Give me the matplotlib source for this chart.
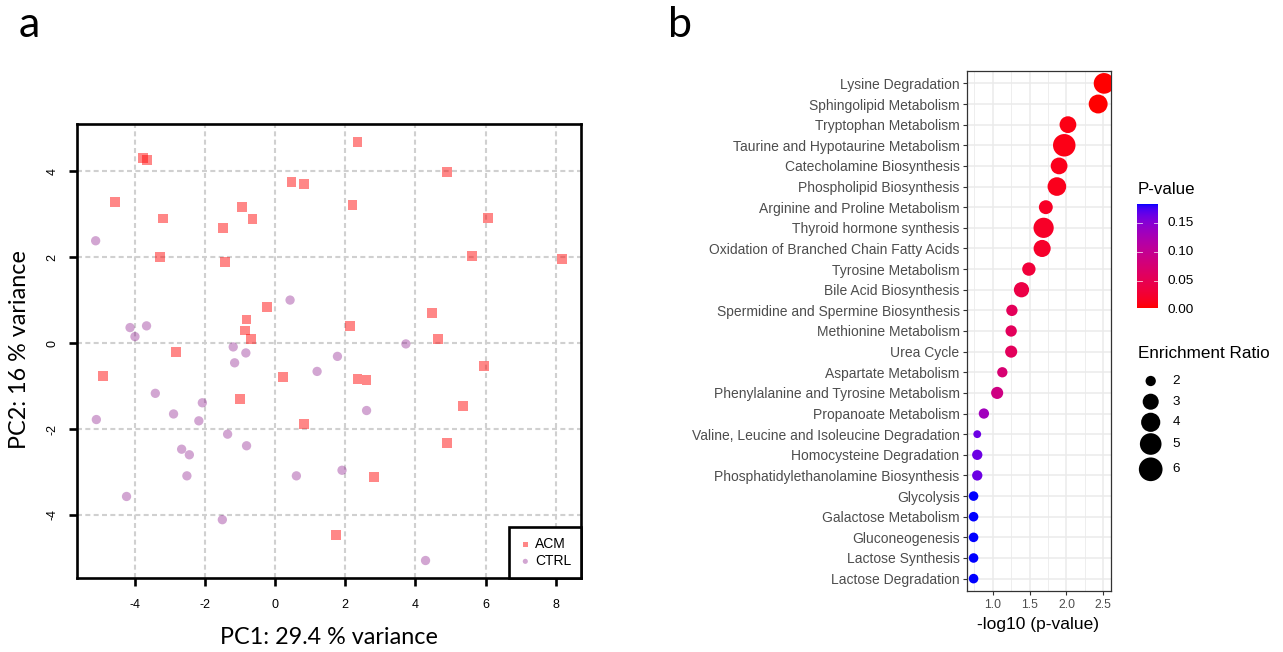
import numpy as np
import matplotlib
matplotlib.use("Agg")
import matplotlib.pyplot as plt
from matplotlib.colors import ListedColormap, Normalize

plt.rcParams["axes.unicode_minus"] = False
plt.rcParams["font.family"] = ["Liberation Sans", "DejaVu Sans"]

# ---------------- data: panel a (PCA) ----------------
acm_x = [-3.75, -3.65, -4.56, -3.18, -3.28, -1.49, -1.42, -0.95, -0.64, 0.47, 0.83,
         -0.22, -0.81, -0.85, -0.68, -2.83, -4.91, 0.24, -1.00, 0.82, 2.35, 2.21,
         4.90, 6.08, 5.62, 8.18, 4.48, 2.14, 4.64, 5.95, 2.35, 2.61, 5.35, 4.89, 2.81, 1.73]
acm_y = [4.30, 4.26, 3.29, 2.90, 2.01, 2.68, 1.89, 3.17, 2.88, 3.74, 3.71,
         0.83, 0.55, 0.29, 0.09, -0.20, -0.76, -0.79, -1.30, -1.88, 4.68, 3.21,
         3.98, 2.91, 2.02, 1.95, 0.70, 0.40, 0.09, -0.53, -0.84, -0.86, -1.47, -2.32, -3.12, -4.47]
ctrl_x = [-5.11, 0.43, -4.13, -3.66, -3.99, -1.19, -0.83, -1.15, 1.20, -3.41, -2.07,
          -2.89, -5.09, -2.17, -1.35, -0.81, -2.66, -2.44, -2.51, 0.61, -4.23, -1.50,
          3.73, 1.78, 2.61, 1.91, 4.29]
ctrl_y = [2.38, 1.00, 0.36, 0.40, 0.15, -0.09, -0.23, -0.46, -0.66, -1.17, -1.39,
          -1.65, -1.78, -1.81, -2.12, -2.39, -2.47, -2.60, -3.09, -3.09, -3.57, -4.11,
          -0.02, -0.31, -1.57, -2.96, -5.06]
pca_xticks = [-4, -2, 0, 2, 4, 6, 8]
pca_yticks = [-4, -2, 0, 2, 4]

# ---------------- data: panel b (enrichment) ----------------
pathways = ["Lysine Degradation", "Sphingolipid Metabolism", "Tryptophan Metabolism",
            "Taurine and Hypotaurine Metabolism", "Catecholamine Biosynthesis",
            "Phospholipid Biosynthesis", "Arginine and Proline Metabolism",
            "Thyroid hormone synthesis", "Oxidation of Branched Chain Fatty Acids",
            "Tyrosine Metabolism", "Bile Acid Biosynthesis",
            "Spermidine and Spermine Biosynthesis", "Methionine Metabolism", "Urea Cycle",
            "Aspartate Metabolism", "Phenylalanine and Tyrosine Metabolism",
            "Propanoate Metabolism", "Valine, Leucine and Isoleucine Degradation",
            "Homocysteine Degradation", "Phosphatidylethanolamine Biosynthesis",
            "Glycolysis", "Galactose Metabolism", "Gluconeogenesis", "Lactose Synthesis",
            "Lactose Degradation"]
neglog10p = [2.51, 2.43, 2.02, 1.97, 1.90, 1.87, 1.72, 1.69, 1.67, 1.49, 1.39,
             1.26, 1.25, 1.25, 1.13, 1.06, 0.88, 0.79, 0.79, 0.79,
             0.74, 0.74, 0.74, 0.74, 0.74]
enrichment = [4.6, 3.9, 3.2, 5.4, 3.2, 3.8, 2.5, 4.4, 3.3, 2.4, 2.8,
              2.1, 2.1, 2.2, 2.0, 2.2, 2.0, 1.9, 2.0, 2.0,
              1.95, 1.95, 1.95, 1.95, 1.95]
bx_ticks = [1.0, 1.5, 2.0, 2.5]
bx_minor = [0.75, 1.25, 1.75, 2.25]
cbar_ticks = [0.00, 0.05, 0.10, 0.15]
size_breaks = [2, 3, 4, 5, 6]

W, H = 1283, 652
fig = plt.figure(figsize=(W / 100, H / 100), dpi=100)
fig.patch.set_facecolor("white")

# ---------- colour scale (Lab interpolation red -> blue, like ggplot) ----------
_M = np.array([[0.4124564, 0.3575761, 0.1804375],
               [0.2126729, 0.7151522, 0.0721750],
               [0.0193339, 0.1191920, 0.9503041]])
_WHITE = np.array([0.95047, 1.0, 1.08883])


def _to_lab(rgb):
    c = np.asarray(rgb, float)
    lin = np.where(c <= 0.04045, c / 12.92, ((c + 0.055) / 1.055) ** 2.4)
    t = (_M @ lin) / _WHITE
    f = np.where(t > 0.008856, np.cbrt(t), 7.787 * t + 16 / 116)
    return np.array([116 * f[1] - 16, 500 * (f[0] - f[1]), 200 * (f[1] - f[2])])


def _from_lab(lab):
    L, a, b = lab
    fy = (L + 16) / 116
    f = np.array([fy + a / 500, fy, fy - b / 200])
    t = np.where(f ** 3 > 0.008856, f ** 3, (f - 16 / 116) / 7.787)
    lin = np.linalg.solve(_M, t * _WHITE)
    lin = np.clip(lin, 0, 1)
    return np.where(lin <= 0.0031308, 12.92 * lin, 1.055 * lin ** (1 / 2.4) - 0.055)


_la, _lb = _to_lab([1, 0, 0]), _to_lab([0, 0, 1])
cmap = ListedColormap([np.clip(_from_lab(_la + (_lb - _la) * t), 0, 1)
                       for t in np.linspace(0, 1, 256)])

pvals = 10 ** (-np.array(neglog10p))
norm = Normalize(vmin=pvals.min(), vmax=pvals.max())


def diam_px(v):
    v = np.asarray(v, float)
    return 7.82 + 7.84 * np.sqrt(np.clip(v - 1.9, 0, None))


def s_of(v):
    return (diam_px(v) * 0.72) ** 2

# ================= panel a =================
axA = fig.add_axes([76.7 / W, 1 - 577.7 / H, 504.3 / W, 453.4 / H])
axA.set_axisbelow(True)
axA.grid(True, linestyle=(0, (2.4, 1.6)), color="#D0D0D0", lw=1.5)
axA.scatter(acm_x, acm_y, marker="s", s=50, color="red", alpha=0.47,
            edgecolors="none", label="ACM", zorder=3)
axA.scatter(ctrl_x, ctrl_y, marker="o", s=45, color="#800080", alpha=0.35,
            edgecolors="none", label="CTRL", zorder=3)
axA.set_xlim(-5.65, 8.72)
axA.set_ylim(-5.46, 5.09)
axA.set_xticks(pca_xticks)
axA.set_yticks(pca_yticks)
for sp in axA.spines.values():
    sp.set_linewidth(1.9)
    sp.set_color("black")
axA.tick_params(length=6, width=1.9, direction="out", labelsize=9, pad=9)
axA.tick_params(axis="y", labelrotation=90, pad=7)
for lbl in axA.get_yticklabels():
    lbl.set_va("center")
leg = axA.legend(loc="lower right", frameon=True, fancybox=False, framealpha=1,
                 edgecolor="black", borderaxespad=0, markerscale=0.55,
                 prop={"size": 10},
                 handletextpad=0.2, labelspacing=0.2, borderpad=0.7, handlelength=1.0)
leg.get_frame().set_linewidth(1.9)

fig.text(19 / W, 1 - 37 / H, "a", fontfamily="Lato", fontsize=31, ha="left", va="baseline")
fig.text(668 / W, 1 - 37 / H, "b", fontfamily="Lato", fontsize=31, ha="left", va="baseline")
fig.text(328.5 / W, 1 - 638 / H, "PC1: 29.4 % variance", fontfamily="Lato",
         fontsize=16.8, ha="center", va="center")
fig.text(20 / W, 1 - 350 / H, "PC2: 16 % variance", fontfamily="Lato",
         fontsize=16.8, ha="center", va="center", rotation=90)

# ================= panel b =================
axB = fig.add_axes([967.3 / W, 1 - 591 / H, 143.4 / W, 520 / H])
n = len(pathways)
ypos = np.arange(n)
axB.set_axisbelow(True)
axB.set_xticks(bx_ticks)
axB.set_xticks(bx_minor, minor=True)
axB.set_yticks(ypos)
axB.set_yticklabels(pathways)
axB.grid(True, which="major", color="#EBEBEB", lw=1.1)
axB.grid(True, which="minor", axis="x", color="#EBEBEB", lw=0.6)
axB.scatter(neglog10p, ypos, s=s_of(enrichment), c=cmap(norm(pvals)),
            edgecolors="none", zorder=3, clip_on=True)
axB.set_xlim(0.655, 2.60)
axB.set_ylim(n - 1 + 0.6, -0.6)
for sp in axB.spines.values():
    sp.set_linewidth(0.9)
    sp.set_color("#333333")
axB.tick_params(which="major", length=2.6, width=0.8, color="#333333",
                labelcolor="#4D4D4D")
axB.tick_params(which="minor", length=0)
axB.tick_params(axis="y", labelsize=10, pad=3)
axB.tick_params(axis="x", labelsize=8.8, pad=3)
fig.text(1038.3 / W, 1 - 624 / H, "-log10 (p-value)", fontsize=12.5,
         ha="center", va="center")

# ---------- legends for panel b (pixel-space overlay) ----------
axL = fig.add_axes([0, 0, 1, 1])
axL.axis("off")
grad = np.linspace(0, 1, 256).reshape(-1, 1)
axL.imshow(grad, extent=[1137.3, 1158.3, 308.3, 204.3], cmap=cmap, aspect="auto",
           origin="lower", interpolation="bilinear")
axL.set_xlim(0, W)
axL.set_ylim(H, 0)
bar_bottom, bar_top = 308.3, 204.3
for tv in cbar_ticks:
    yy = bar_bottom - (tv - pvals.min()) / (pvals.max() - pvals.min()) * (bar_bottom - bar_top)
    yy_line = min(yy, bar_bottom)
    if tv > 0:
        axL.plot([1137.3, 1141.5], [yy_line, yy_line], color="white", lw=0.6, alpha=0.8)
        axL.plot([1154.1, 1158.3], [yy_line, yy_line], color="white", lw=0.6, alpha=0.8)
    axL.text(1167, yy, f"{tv:.2f}", fontsize=9.7, ha="left", va="center", color="black")
axL.text(1137.5, 194, "P-value", fontsize=12.2, ha="left", va="baseline")
axL.text(1137.5, 358.5, "Enrichment Ratio", fontsize=12.3, ha="left", va="baseline")
leg_y = [381, 401.7, 422.3, 444, 469.3]
axL.scatter([1150.7] * len(size_breaks), leg_y, s=s_of(size_breaks), color="black",
            edgecolors="none")
for v, yy in zip(size_breaks, leg_y):
    axL.text(1172.3, yy, str(v), fontsize=9.7, ha="left", va="center")

fig.savefig("out.png", dpi=100)
